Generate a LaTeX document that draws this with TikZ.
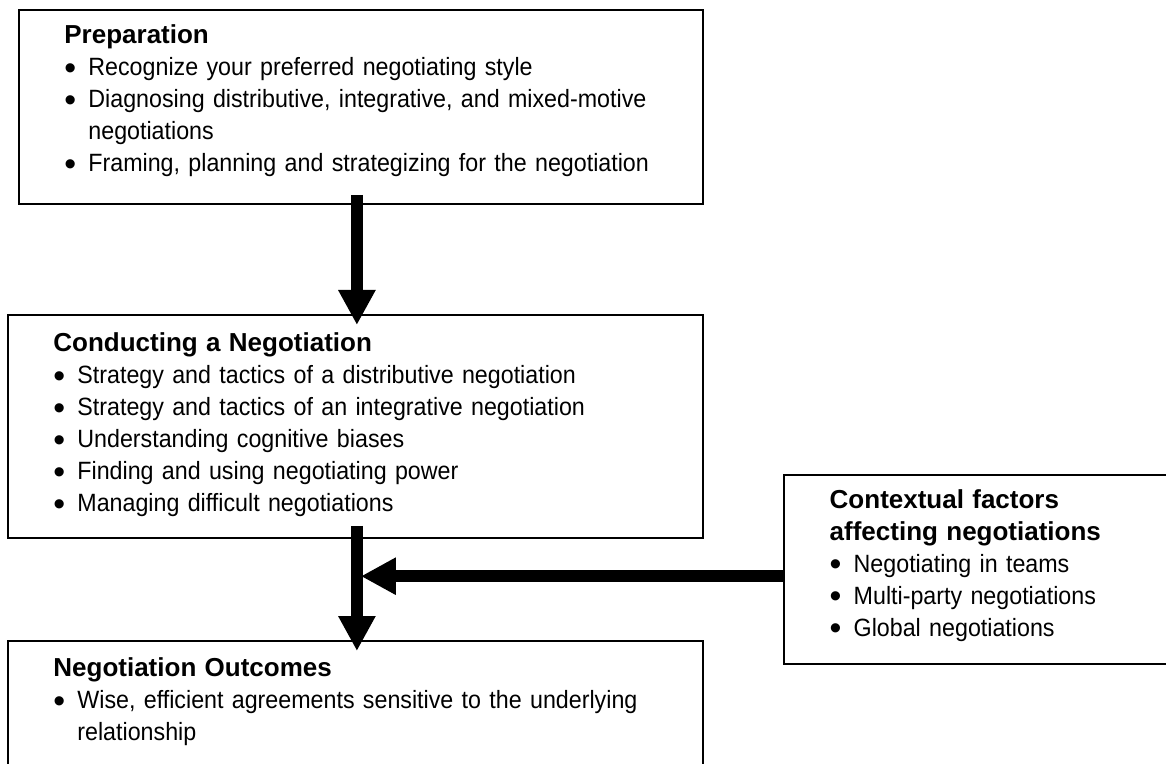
\documentclass[tikz,border=0pt]{standalone}
\usepackage{fontspec}
\usepackage{graphicx}
\setmainfont{Liberation Sans}
\newfontfamily\narrowfont{Liberation Sans}[FakeStretch=0.93]
\usetikzlibrary{arrows.meta}
\newcommand{\heading}[1]{{\rmfamily\bfseries\fontsize{26}{32}\selectfont #1}}
\newcommand{\bul}{\makebox[24pt][l]{\raisebox{-3.5pt}{\rmfamily\scalebox{1.35}{\textbullet}}}}
\tikzset{
    % one box of the course outline
    box/.style={draw, line width=1.8pt, rectangle, anchor=north west, align=left,
        inner xsep=45.5pt, inner ysep=0pt,
        font=\narrowfont\fontsize{25}{32}\selectfont},
    bigarrow/.style={line width=12pt, -{Triangle[length=35pt,width=35pt]}}
}

\begin{document}
\begin{tikzpicture}[x=1pt,y=1pt]
    \useasboundingbox (0,0) rectangle (1166,763);
    \node[box,text width=593pt] (prep) at (18,754) {\rule{0pt}{34pt}\heading{Preparation}\\
        \bul Recognize your preferred negotiating style\\
        \bul Diagnosing distributive, integrative, and mixed-motive\\
        \hspace*{24pt}negotiations\\
        \bul Framing, planning and strategizing for the negotiation\rule[-32pt]{0pt}{32pt}};
    \node[box,text width=604pt] (conduct) at (7,449) {\rule{0pt}{37pt}\heading{Conducting a Negotiation}\\
        \bul Strategy and tactics of a distributive negotiation\\
        \bul Strategy and tactics of an integrative negotiation\\
        \bul Understanding cognitive biases\\
        \bul Finding and using negotiating power\\
        \bul Managing difficult negotiations\rule[-26pt]{0pt}{26pt}};
    \node[box,text width=604pt] (outcome) at (7,123) {\rule{0pt}{36pt}\heading{Negotiation Outcomes}\\
        \bul Wise, efficient agreements sensitive to the underlying\\
        \hspace*{24pt}relationship\rule[-150pt]{0pt}{150pt}};
    \node[box,line width=2.4pt,text width=317pt] (context) at (783,289) {\rule{0pt}{33pt}\heading{Contextual factors}\\
        \heading{affecting negotiations}\\
        \bul Negotiating in teams\\
        \bul Multi-party negotiations\\
        \bul Global negotiations\rule[-28pt]{0pt}{28pt}};
    \draw[bigarrow] ([xshift=-4pt,yshift=10pt]prep.south) -- ([xshift=1.5pt,yshift=-11pt]conduct.north);
    \draw[bigarrow] ([xshift=1.5pt,yshift=13pt]conduct.south) -- ([xshift=1.5pt,yshift=-11pt]outcome.north);
    \draw[bigarrow] ([yshift=-6.5pt]context.west) -- ([yshift=-6.5pt,xshift=5.5pt]context.west -| conduct.south);
\end{tikzpicture}
\end{document}
